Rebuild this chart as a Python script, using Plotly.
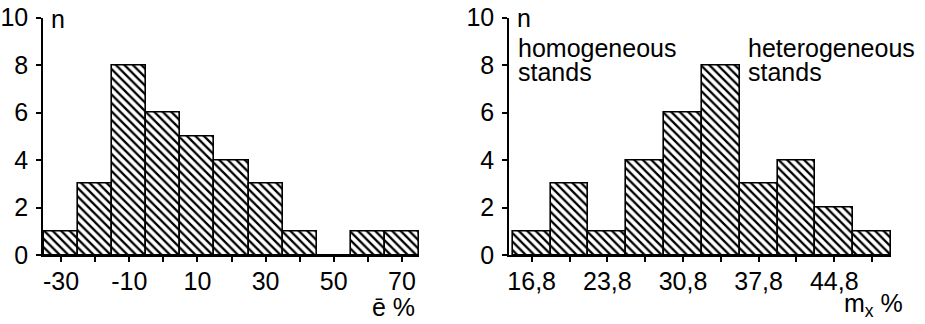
import plotly.graph_objects as go

# ---- data ----
e_centers = [-30, -20, -10, 0, 10, 20, 30, 40, 50, 60, 70]
e_counts = [1, 3, 8, 6, 5, 4, 3, 1, 0, 1, 1]
e_tickvals = [-30, -10, 10, 30, 50, 70]
e_ticktext = ["-30", "-10", "10", "30", "50", "70"]
e_width = 10

m_centers = [16.8, 20.3, 23.8, 27.3, 30.8, 34.3, 37.8, 41.3, 44.8, 48.3]
m_counts = [1, 3, 1, 4, 6, 8, 3, 4, 2, 1]
m_tickvals = [16.8, 23.8, 30.8, 37.8, 44.8]
m_ticktext = ["16,8", "23,8", "30,8", "37,8", "44,8"]
m_width = 3.5

y_ticks = [0, 2, 4, 6, 8, 10]

W, H = 925, 324
FONT = "Liberation Sans, Arial, Helvetica, sans-serif"
FS = 25


def px(x):
    return x / W


def py(y):
    return (H - y) / H


bar_style = dict(
    color="white",
    line=dict(color="black", width=1.6),
    pattern=dict(shape="\\", fgcolor="black", bgcolor="white", size=6, solidity=0.38),
)

fig = go.Figure()
fig.add_trace(go.Bar(x=e_centers, y=e_counts, width=e_width, marker=bar_style,
                     xaxis="x", yaxis="y", showlegend=False))
fig.add_trace(go.Bar(x=m_centers, y=m_counts, width=m_width, marker=bar_style,
                     xaxis="x2", yaxis="y2", showlegend=False))

axis_common = dict(
    showline=True, linecolor="black", linewidth=1.6,
    ticks="outside", ticklen=5, tickwidth=1.6, tickcolor="black",
    showgrid=False, zeroline=False, automargin=False,
    tickfont=dict(family=FONT, size=FS, color="black"),
    fixedrange=True,
)


def minor(tick0, dtick):
    return dict(ticks="outside", ticklen=5, tickwidth=1.6, tickcolor="black",
                tick0=tick0, dtick=dtick, showgrid=False)


ydom = [py(255), py(17.5)]

fig.update_layout(
    template="none",
    width=W, height=H,
    margin=dict(l=0, r=0, t=0, b=0, pad=0),
    paper_bgcolor="white", plot_bgcolor="white",
    bargap=0,
    font=dict(family=FONT, size=FS, color="black"),
    xaxis=dict(domain=[px(43), px(419)], range=[-35.3, 75], anchor="y",
               tickmode="array", tickvals=e_tickvals, ticktext=e_ticktext,
               minor=minor(e_centers[0], e_width),
               ticklabelstandoff=-2, **axis_common),
    yaxis=dict(domain=ydom, range=[0, 10], anchor="x",
               tickmode="array", tickvals=y_ticks, ticklabelstandoff=3,
               **axis_common),
    xaxis2=dict(domain=[px(509), px(891)], range=[14.7, 50.05], anchor="y2",
                tickmode="array", tickvals=m_tickvals, ticktext=m_ticktext,
                minor=minor(m_centers[0], m_width),
                ticklabelstandoff=-2, **axis_common),
    yaxis2=dict(domain=ydom, range=[0, 10], anchor="x2",
                tickmode="array", tickvals=y_ticks, ticklabelstandoff=3,
                **axis_common),
)


def note(text, x, y, xanchor="left"):
    fig.add_annotation(text=text, x=px(x), y=py(y), xref="paper", yref="paper",
                       xanchor=xanchor, yanchor="middle", showarrow=False,
                       font=dict(family=FONT, size=FS, color="black"))


note("n", 49, 19)
note("n", 515, 18)
note("homogeneous", 516, 48)
note("stands", 516, 72)
note("heterogeneous", 746, 48)
note("stands", 746, 72)
note("ē %", 417, 307, xanchor="right")
note("m<sub>x</sub> %", 905, 305, xanchor="right")

fig.write_html("out.html")
